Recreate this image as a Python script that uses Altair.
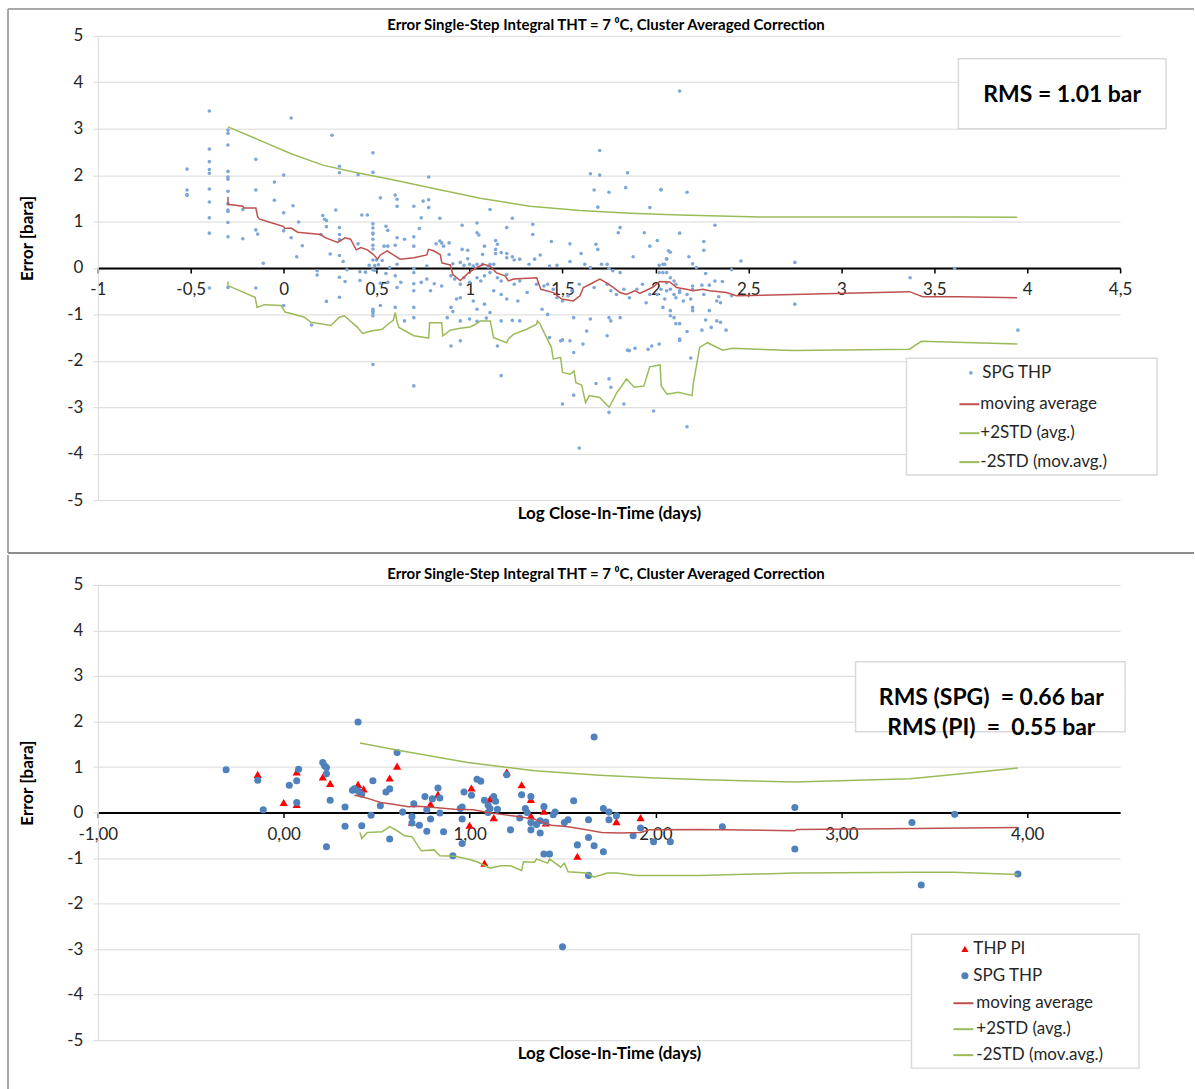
import altair as alt
import pandas as pd

FONT = "Lato"
TEXT_DARK = "#262626"
GRID = "#d9d9d9"
FRAME = "#8c8c8c"

TITLE = "Error Single-Step Integral THT = 7 \u2070C, Cluster Averaged Correction"
X_TITLE = "Log Close-In-Time (days)"
Y_TITLE = "Error [bara]"

# ---- axis ticks -------------------------------------------------------------
top_x_ticks = [-1, -0.5, 0, 0.5, 1, 1.5, 2, 2.5, 3, 3.5, 4, 4.5]
bot_x_ticks = [-1, 0, 1, 2, 3, 4]
y_ticks = [-5, -4, -3, -2, -1, 0, 1, 2, 3, 4, 5]

# ---- legend entries ---------------------------------------------------------
line_series = ["moving average", "+2STD (avg.)", "-2STD (mov.avg.)"]
line_colors = ["#c0504d", "#9bbb59", "#9bbb59"]
top_point_series = ["SPG THP"]
top_point_colors = ["#7ea6d8"]
bot_point_series = ["THP PI", "SPG THP"]
bot_point_colors = ["#ff0000", "#4f81bd"]
bot_point_shapes = ["triangle-up", "circle"]

top_rms = ["RMS = 1.01 bar"]
bot_rms = ["RMS (SPG)\u00a0 = 0.66 bar", "RMS (PI)\u00a0 = \u00a00.55 bar"]

# ---- upper panel: all SPG THP errors (log close-in-time, error) -------------
top_spg = [
    (-0.40, 3.38), (0.04, 3.23), (-0.30, 2.97), (-0.30, 2.90), (-0.30, 2.65), (0.26, 2.86),
    (-0.40, 2.56), (-0.40, 2.29), (-0.40, 2.12), (-0.40, 2.04), (-0.40, 1.70), (-0.40, 1.42),
    (-0.40, 1.08), (-0.40, 0.75), (-0.40, -0.43), (-0.52, 2.13), (-0.52, 1.68), (-0.52, 1.58),
    (-0.52, 1.56), (-0.15, 2.34), (-0.30, 2.08), (-0.30, 1.96), (-0.30, 1.91), (-0.30, 1.65),
    (-0.30, 1.38), (-0.30, 1.25), (-0.30, 1.22), (-0.30, 0.98), (-0.30, 0.67), (-0.30, -0.42),
    (0.30, 2.19), (0.30, 2.05), (0.48, 2.48), (0.48, 2.06), (0.40, 2.01), (0.00, 2.00),
    (-0.05, 1.85), (0.52, 1.51), (-0.15, 1.68), (-0.05, 1.46), (0.05, 1.34), (0.00, 1.19),
    (-0.22, 1.26), (0.28, 1.25), (0.21, 1.13), (0.22, 1.05), (0.23, 1.02), (0.42, 1.14),
    (0.45, 1.14), (0.08, 0.99), (-0.15, 0.82), (-0.14, 0.73), (-0.22, 0.63), (0.00, 0.80),
    (0.04, 0.65), (0.10, 0.48), (0.23, 0.89), (0.30, 0.87), (0.30, 0.72), (0.30, 0.61),
    (0.20, 0.72), (0.48, 0.95), (0.48, 0.86), (0.48, 0.75), (0.48, 0.73), (0.48, 0.62),
    (0.48, 0.49), (0.48, 0.41), (0.40, 0.52), (0.54, 0.47), (0.07, 0.24), (0.25, 0.30),
    (0.30, 0.27), (0.32, 0.14), (-0.11, 0.10), (0.46, 0.06), (0.48, 0.17), (0.49, 0.05),
    (0.50, 0.17), (0.51, 0.07), (0.53, 0.16), (0.48, -0.04), (0.49, -0.05), (0.18, -0.06),
    (0.18, -0.15), (0.34, -0.04), (0.41, -0.08), (0.44, -0.09), (0.30, -0.20), (0.33, -0.29),
    (0.41, -0.27), (0.52, -0.33), (0.52, -0.81), (0.48, -0.89), (0.48, -0.93), (0.48, -0.97),
    (0.48, -1.03), (-0.15, -0.43), (0.00, -0.81), (0.23, -0.72), (0.30, -0.63), (0.15, -1.23),
    (0.48, -2.08),
    (1.70, 2.53), (1.65, 2.03), (1.70, 2.00), (1.67, 1.68), (1.75, 1.63), (1.85, 2.05),
    (1.84, 1.73), (2.03, 1.68), (1.97, 1.30), (1.69, 1.31), (0.78, 1.96), (0.60, 1.57),
    (0.61, 1.48), (0.61, 1.33), (0.70, 1.33), (0.75, 1.44), (0.78, 1.47), (0.78, 1.30),
    (0.74, 1.08), (0.84, 1.07), (1.11, 1.26), (1.23, 1.07), (1.20, 0.87), (1.34, 0.94),
    (1.34, 0.72), (1.44, 0.57), (1.54, 0.52), (0.96, 0.92), (1.04, 0.97), (1.04, 0.76),
    (1.05, 0.71), (0.55, 0.90), (0.56, 0.81), (0.61, 0.65), (0.65, 0.62), (0.70, 0.67),
    (0.70, 0.47), (0.60, 0.49), (0.56, 0.47), (0.73, 0.85), (0.84, 0.58), (0.85, 0.54),
    (0.82, 0.52), (0.86, 0.47), (0.89, 0.54), (0.89, 0.29), (0.96, 0.40), (0.99, 0.38),
    (1.08, 0.47), (1.07, 0.29), (1.14, 0.59), (1.15, 0.51), (1.14, 0.40), (1.14, 0.31),
    (1.17, 0.33), (1.20, 0.31), (1.20, 0.22), (1.23, 0.24), (1.24, 0.17), (1.27, 0.19),
    (1.32, 0.08), (1.35, 0.19), (1.38, 0.28), (1.43, 0.04), (1.47, 0.06), (1.54, 0.14),
    (1.60, 0.31), (1.68, 0.51), (1.69, 0.40), (1.81, 0.87), (1.80, 0.76), (1.94, 0.76),
    (1.97, 0.47), (2.01, 0.59), (1.88, 0.24), (2.07, 0.37), (2.05, 0.08), (2.06, 0.20),
    (2.02, 0.06), (2.04, -0.10), (1.62, 0.08), (1.65, 0.01), (1.71, 0.08), (1.74, 0.08),
    (1.75, -0.01), (1.77, -0.06), (1.81, -0.10), (0.99, 0.20), (1.02, 0.04), (1.04, 0.08),
    (1.07, 0.08), (1.10, 0.02), (1.11, 0.08), (1.13, 0.08), (0.95, 0.12), (0.97, 0.06),
    (1.00, 0.08), (0.91, 0.09), (0.77, 0.04), (0.70, -0.01), (0.61, 0.08), (0.57, 0.01),
    (0.55, -0.12), (0.56, -0.31), (0.60, -0.17), (0.61, -0.42), (0.63, -0.31), (0.70, -0.10),
    (0.70, -0.34), (0.74, -0.31), (0.77, -0.24), (0.70, -0.49), (0.79, -0.49), (0.81, -0.34),
    (0.85, -0.39), (0.90, -0.17), (0.92, -0.24), (0.95, -0.35), (0.97, -0.21), (1.00, -0.31),
    (1.04, -0.21), (1.06, -0.28), (1.08, -0.17), (1.11, -0.10), (1.15, -0.21), (1.17, -0.28),
    (1.20, -0.14), (1.24, -0.35), (1.27, -0.28), (0.95, -0.64), (0.93, -0.67), (1.02, -0.71),
    (1.04, -0.89), (1.08, -0.78), (1.13, -0.49), (1.17, -0.57), (1.20, -0.67), (1.26, -0.71),
    (1.31, -0.53), (1.36, -0.35), (1.40, -0.39), (1.42, -0.35), (1.45, -0.46), (1.47, -0.64),
    (1.50, -0.71), (1.53, -0.60), (1.55, -0.49), (1.59, -0.35), (1.67, -0.42), (1.74, -0.35),
    (1.76, -0.49), (1.79, -0.57), (1.83, -0.46), (1.86, -0.64), (1.90, -0.46), (1.93, -0.35),
    (1.95, -0.75), (1.97, -0.57), (2.01, -0.57), (2.04, -0.85), (2.08, -0.92), (2.10, -1.07),
    (2.13, -0.49), (0.90, -0.85), (0.91, -0.94), (0.88, -1.07), (0.70, -0.85), (0.70, -1.07),
    (0.65, -1.14), (0.60, -0.85), (0.95, -1.14), (1.00, -1.10), (1.04, -1.15), (1.09, -1.08),
    (1.11, -0.96), (1.17, -1.14), (1.23, -1.13), (1.27, -1.14), (1.39, -0.89), (1.42, -1.00),
    (1.56, -1.07), (1.65, -1.10), (1.75, -1.07), (1.76, -1.14), (1.81, -1.07), (0.90, -1.68),
    (0.95, -1.57), (1.15, -1.68), (1.43, -1.50), (1.50, -1.55), (1.54, -1.57), (1.63, -1.36),
    (1.74, -1.46), (1.85, -1.77), (1.89, -1.73), (1.96, -1.75), (2.02, -1.64), (2.13, -1.56),
    (1.17, -2.32), (0.70, -2.54), (1.76, -2.57), (1.50, -2.93), (1.59, -3.88), (1.56, -2.74),
    (1.56, -1.82), (1.61, -1.64), (1.49, -1.57), (1.75, -3.11), (1.99, -3.08), (2.17, -3.42),
    (1.83, -2.93), (1.68, -2.49), (1.75, -2.39), (1.86, -1.78), (1.98, -1.68), (2.19, -1.94),
    (3.95, -1.34), (2.75, -0.78),
    (2.13, 3.81), (2.03, 1.69), (2.17, 1.63), (2.32, 0.92), (2.13, 0.75), (2.08, 0.34),
    (2.26, 0.57), (2.26, 0.38), (2.18, 0.24), (2.46, 0.15), (2.75, 0.12), (2.04, 0.08),
    (2.06, 0.19), (2.20, 0.09), (2.22, 0.01), (2.27, -0.12), (2.41, -0.04), (3.61, -0.01),
    (3.37, -0.21), (2.02, -0.10), (2.06, -0.10), (2.08, -0.21), (2.06, -0.32), (2.10, -0.28),
    (2.11, -0.35), (2.03, -0.46), (2.06, -0.49), (2.08, -0.46), (2.10, -0.57), (2.13, -0.53),
    (2.17, -0.57), (2.20, -0.39), (2.20, -0.46), (2.25, -0.37), (2.26, -0.57), (2.29, -0.37),
    (2.32, -0.28), (2.36, -0.29), (2.05, -0.67), (2.11, -0.64), (2.15, -0.71), (2.19, -0.67),
    (2.20, -0.85), (2.20, -0.92), (2.29, -0.92), (2.33, -0.71), (2.34, -0.62), (2.35, -0.75),
    (2.41, -0.60), (2.08, -1.03), (2.11, -1.20), (2.13, -1.20), (2.17, -1.37), (2.25, -1.34),
    (2.27, -1.12), (2.30, -1.28), (2.33, -1.14), (2.35, -1.17), (2.38, -1.34), (2.13, -1.53),
]

top_mov_avg = [
    (-0.30, 1.53), (-0.30, 1.37), (-0.22, 1.33), (-0.215, 1.29), (-0.15, 1.29), (-0.14, 1.10),
    (-0.13, 1.05), (-0.07, 0.98), (0.00, 0.89), (0.005, 0.85), (0.04, 0.86), (0.075, 0.77),
    (0.20, 0.72), (0.22, 0.66), (0.29, 0.55), (0.33, 0.65), (0.36, 0.62), (0.39, 0.39),
    (0.415, 0.44), (0.45, 0.39), (0.48, 0.30), (0.505, 0.19), (0.52, 0.28), (0.556, 0.37),
    (0.59, 0.28), (0.627, 0.19), (0.70, 0.22), (0.77, 0.28), (0.779, 0.40), (0.806, 0.37),
    (0.842, 0.29), (0.851, 0.11), (0.896, 0.065), (0.91, -0.14), (0.95, -0.27), (0.995, -0.10),
    (1.039, 0.01), (1.075, 0.08), (1.111, 0.04), (1.143, -0.10), (1.191, -0.17), (1.209, -0.28),
    (1.236, -0.24), (1.361, -0.21), (1.383, -0.46), (1.451, -0.53), (1.496, -0.67), (1.558, -0.71),
    (1.594, -0.60), (1.612, -0.42), (1.648, -0.35), (1.701, -0.24), (1.737, -0.32), (1.773, -0.42),
    (1.809, -0.53), (1.844, -0.57), (1.889, -0.49), (1.916, -0.55), (1.952, -0.48), (1.987, -0.41),
    (2.023, -0.29), (2.077, -0.30), (2.113, -0.42), (2.167, -0.46), (2.202, -0.49), (2.256, -0.46),
    (2.292, -0.49), (2.382, -0.53), (2.435, -0.60), (2.74, -0.57), (3.367, -0.51), (3.438, -0.62),
    (3.635, -0.62), (3.946, -0.64),
]

top_plus_2std = [
    (-0.30, 3.04), (-0.14, 2.77), (0.04, 2.46), (0.215, 2.21), (0.395, 2.05), (0.574, 1.91),
    (0.788, 1.73), (1.057, 1.50), (1.325, 1.33), (1.594, 1.24), (1.862, 1.18), (2.131, 1.14),
    (2.292, 1.125), (2.56, 1.10), (3.636, 1.10), (3.946, 1.09),
]

top_minus_2std = [
    (-0.30, -0.29), (-0.30, -0.38), (-0.154, -0.63), (-0.143, -0.85), (-0.104, -0.79), (-0.014, -0.81),
    (0.007, -0.95), (0.039, -0.98), (0.111, -1.06), (0.147, -1.17), (0.254, -1.24), (0.299, -1.06),
    (0.326, -1.03), (0.397, -1.28), (0.424, -1.41), (0.47, -1.36), (0.53, -1.32), (0.55, -1.25),
    (0.59, -1.12), (0.60, -0.96), (0.61, -1.16), (0.62, -1.28), (0.70, -1.46), (0.78, -1.51),
    (0.785, -1.18), (0.85, -1.18), (0.856, -1.46), (0.896, -1.34), (0.95, -1.30), (1.003, -1.27),
    (1.039, -1.20), (1.057, -1.14), (1.111, -1.14), (1.129, -1.50), (1.20, -1.61), (1.209, -1.53),
    (1.236, -1.43), (1.307, -1.32), (1.361, -1.21), (1.365, -1.14), (1.379, -1.21), (1.44, -1.71),
    (1.45, -1.96), (1.49, -1.93), (1.50, -2.25), (1.541, -2.29), (1.562, -2.22), (1.572, -2.47),
    (1.603, -2.52), (1.624, -2.90), (1.644, -2.75), (1.70, -2.79), (1.751, -3.00), (1.793, -2.68),
    (1.814, -2.57), (1.844, -2.39), (1.886, -2.57), (1.938, -2.54), (1.969, -2.13), (2.025, -2.09),
    (2.031, -2.54), (2.062, -2.72), (2.124, -2.68), (2.197, -2.75), (2.203, -2.50), (2.238, -1.71),
    (2.28, -1.61), (2.362, -1.77), (2.414, -1.73), (2.746, -1.78), (3.367, -1.75), (3.43, -1.58),
    (3.947, -1.64),
]

# ---- lower panel: cluster data with PI comparison ---------------------------
bot_pi = [
    (-0.14, 0.84), (0.00, 0.22), (0.07, 0.89), (0.07, 0.18), (0.21, 0.78), (0.25, 0.64),
    (0.40, 0.62), (0.43, 0.52), (0.57, 0.76), (0.61, 1.02), (0.69, -0.21), (0.79, 0.19),
    (0.83, 0.40), (1.00, -0.28), (1.01, 0.54), (1.08, -1.11), (1.11, 0.30), (1.13, -0.11),
    (1.20, 0.89), (1.28, 0.61), (1.33, 0.29), (1.33, -0.07), (1.40, 0.03), (1.41, -0.23),
    (1.58, -0.96), (1.79, -0.20), (1.92, -0.11),
]

bot_spg = [
    (0.40, 1.99), (1.67, 1.66), (-0.31, 0.94), (-0.14, 0.71), (-0.11, 0.06), (0.03, 0.60),
    (0.07, 0.70), (0.08, 0.95), (0.07, 0.22), (0.21, 1.10), (0.22, 1.03), (0.23, 0.99),
    (0.23, 0.85), (0.25, 0.27), (0.23, -0.75), (0.33, 0.12), (0.33, -0.30), (0.37, 0.49),
    (0.38, 0.52), (0.40, 0.48), (0.41, 0.43), (0.42, 0.40), (0.42, -0.29), (0.47, -0.06),
    (0.48, 0.70), (0.52, 0.15), (0.55, 0.45), (0.57, 0.52), (0.57, -0.58), (0.61, 1.32),
    (0.64, 0.01), (0.69, -0.09), (0.69, -0.23), (0.70, 0.19), (0.73, -0.28), (0.76, 0.35),
    (0.77, 0.06), (0.77, -0.41), (0.79, -0.14), (0.80, 0.30), (0.83, 0.54), (0.84, 0.32),
    (0.84, -0.01), (0.86, -0.42), (0.91, -0.95), (0.95, 0.09), (0.96, 0.12), (0.97, 0.45),
    (0.96, -0.14), (0.96, -0.68), (1.01, 0.38), (1.04, 0.73), (1.06, 0.69), (1.08, 0.27),
    (1.10, 0.16), (1.11, 0.09), (1.13, 0.35), (1.14, 0.25), (1.15, 0.07), (1.10, 0.00),
    (1.20, 0.83), (1.22, -0.38), (1.27, -0.12), (1.28, 0.39), (1.30, 0.09), (1.31, 0.00),
    (1.33, -0.22), (1.33, -0.38), (1.33, 0.35), (1.36, -0.26), (1.38, -0.18), (1.38, -0.45),
    (1.41, -0.21), (1.40, 0.13), (1.40, -0.91), (1.43, -0.91), (1.45, -0.05), (1.46, 0.01),
    (1.51, -0.22), (1.53, -0.16), (1.50, -2.95), (1.56, 0.26), (1.58, -0.71), (1.64, -0.16),
    (1.64, -1.38), (1.64, -0.55), (1.67, -0.73), (1.72, -0.86), (1.72, 0.09), (1.75, 0.01),
    (1.75, -0.16), (1.79, -0.07), (1.88, -0.51), (1.92, -0.34), (1.99, -0.64), (2.08, -0.64),
    (2.36, -0.31), (2.75, 0.11), (2.75, -0.80), (3.38, -0.22), (3.43, -1.59), (3.61, -0.04),
    (3.95, -1.35),
]

bot_mov_avg = [
    (0.38, 0.38), (0.41, 0.36), (0.47, 0.29), (0.52, 0.22), (0.59, 0.18), (0.67, 0.13),
    (0.72, 0.14), (0.81, 0.11), (0.92, 0.07), (1.02, 0.06), (1.10, 0.00), (1.17, -0.04),
    (1.27, -0.09), (1.35, -0.15), (1.44, -0.28), (1.53, -0.31), (1.62, -0.37), (1.71, -0.44),
    (1.81, -0.45), (1.92, -0.44), (1.97, -0.38), (2.24, -0.37), (2.75, -0.40), (2.76, -0.37),
    (3.40, -0.35), (3.95, -0.33),
]

bot_plus_2std = [
    (0.41, 1.53), (0.63, 1.36), (0.99, 1.10), (1.35, 0.92), (1.70, 0.82), (2.00, 0.76),
    (2.27, 0.72), (2.75, 0.67), (3.37, 0.74), (3.62, 0.84), (3.95, 0.98),
]

bot_minus_2std = [
    (0.41, -0.44), (0.42, -0.57), (0.45, -0.44), (0.53, -0.42), (0.57, -0.31), (0.61, -0.40),
    (0.65, -0.51), (0.69, -0.53), (0.74, -0.84), (0.81, -0.82), (0.84, -0.95), (0.92, -0.96),
    (0.99, -1.02), (1.04, -1.08), (1.09, -1.18), (1.11, -1.22), (1.17, -1.17), (1.22, -1.17),
    (1.28, -1.27), (1.29, -1.08), (1.35, -1.09), (1.36, -1.02), (1.42, -1.11), (1.43, -1.02),
    (1.49, -1.20), (1.51, -1.11), (1.53, -1.30), (1.63, -1.33), (1.67, -1.42), (1.74, -1.33),
    (1.79, -1.33), (1.90, -1.38), (2.24, -1.38), (2.75, -1.33), (3.43, -1.31), (3.60, -1.31),
    (3.95, -1.36),
]


def points_frame(named):
    rows = []
    for name, pairs in named:
        for x, y in pairs:
            rows.append({"x": x, "y": y, "series": name})
    return pd.DataFrame(rows)


def lines_frame(named):
    rows = []
    for name, pairs in named:
        for i, (x, y) in enumerate(pairs):
            rows.append({"x": x, "y": y, "series": name, "idx": i})
    return pd.DataFrame(rows)


def legend(x, y, row_pad, symbol_type, symbol_size, label_offset):
    return alt.Legend(
        title=None,
        orient="none",
        legendX=x,
        legendY=y,
        padding=0,
        labelFont=FONT,
        labelFontSize=17,
        labelColor=TEXT_DARK,
        labelOffset=label_offset,
        symbolType=symbol_type,
        symbolSize=symbol_size,
        symbolStrokeWidth=2,
        symbolOpacity=1,
        rowPadding=row_pad,
    )


def panel(width, height, x_ticks, x_label_expr, x_title_y, point_layers, lines, point_legend,
          line_legend, legend_box, rms_lines, rms_box, rms_center, frame):
    x_enc = alt.X(
        "x:Q",
        scale=alt.Scale(domain=[-1, 4.5], nice=False, zero=False),
        axis=alt.Axis(
            values=x_ticks,
            labelExpr=x_label_expr,
            offset=-height / 2,
            domainColor="black",
            domainWidth=2,
            tickColor="black",
            tickWidth=1.5,
            tickSize=5,
            labelFont=FONT,
            labelFontSize=17,
            labelColor=TEXT_DARK,
            labelPadding=9,
            labelFlush=False,
            labelOverlap=False,
            grid=False,
            title=X_TITLE,
            titleFont=FONT,
            titleFontSize=17,
            titleFontWeight="bold",
            titleColor="black",
            titleX=width / 2,
            titleY=x_title_y,
            titleBaseline="middle",
            titleAlign="center",
        ),
    )
    y_enc = alt.Y(
        "y:Q",
        scale=alt.Scale(domain=[-5, 5], nice=False, zero=False),
        axis=alt.Axis(
            values=y_ticks,
            labelExpr="toString(datum.value)",
            domainColor=GRID,
            domainWidth=1,
            tickColor=GRID,
            tickSize=5,
            labelFont=FONT,
            labelFontSize=17,
            labelColor=TEXT_DARK,
            labelPadding=10,
            grid=True,
            gridColor=GRID,
            gridWidth=1,
            title=Y_TITLE,
            titleFont=FONT,
            titleFontSize=17,
            titleFontWeight="bold",
            titleColor="black",
            titleAngle=-90,
            titleX=-70,
            titleY=height / 2 - 30,
            titleBaseline="middle",
            titleAlign="center",
        ),
    )

    p_series, p_colors, p_shapes, p_sizes, p_frames = point_layers
    fill = alt.Fill(
        "series:N",
        scale=alt.Scale(domain=p_series, range=p_colors),
        legend=point_legend,
    )
    shape = alt.Shape(
        "series:N",
        scale=alt.Scale(domain=p_series, range=p_shapes),
        legend=point_legend,
    )
    stroke = alt.Stroke(
        "series:N",
        scale=alt.Scale(domain=line_series, range=line_colors),
        legend=line_legend,
    )

    layers = []
    for df, size in zip(p_frames, p_sizes):
        layers.append(
            alt.Chart(df).mark_point(filled=True, size=size, opacity=1, strokeWidth=0)
            .encode(x=x_enc, y=y_enc, fill=fill, shape=shape)
        )
    layers.append(
        alt.Chart(lines).mark_line(strokeWidth=1.5)
        .encode(x=x_enc, y=y_enc, stroke=stroke, order=alt.Order("idx:Q"))
    )

    deco = pd.DataFrame({"k": [0]})
    # chart heading, drawn as text so that it sits inside the page frame
    layers.append(
        alt.Chart(deco).mark_text(
            text=TITLE, font=FONT, fontSize=15, fontWeight="bold", color="black",
            align="center", baseline="middle",
        ).encode(x=alt.value(width / 2 - 3), y=alt.value(-11))
    )
    # legend background box
    lx0, ly0, lx1, ly1 = legend_box
    layers.append(
        alt.Chart(deco).mark_rect(fill="white", stroke=GRID, strokeWidth=1.5)
        .encode(x=alt.value(lx0), x2=alt.value(lx1), y=alt.value(ly0), y2=alt.value(ly1))
    )
    # RMS annotation box
    bx0, by0, bx1, by1 = rms_box
    layers.append(
        alt.Chart(deco).mark_rect(fill="white", stroke=GRID, strokeWidth=1.5)
        .encode(x=alt.value(bx0), x2=alt.value(bx1), y=alt.value(by0), y2=alt.value(by1))
    )
    layers.append(
        alt.Chart(deco).mark_text(
            text=rms_lines if len(rms_lines) > 1 else rms_lines[0],
            font=FONT, fontSize=23, fontWeight="bold", color="black",
            align="center", baseline="middle", lineHeight=30,
        ).encode(x=alt.value(rms_center[0]), y=alt.value(rms_center[1]))
    )
    # page frame around the panel
    f_top, f_bottom, draw_top, draw_sep = frame
    layers.append(
        alt.Chart(deco).mark_rule(color=FRAME, strokeWidth=1.5)
        .encode(x=alt.value(-90), y=alt.value(f_top), y2=alt.value(f_bottom))
    )
    if draw_top:
        layers.append(
            alt.Chart(deco).mark_rule(color=FRAME, strokeWidth=1.5)
            .encode(x=alt.value(-90), x2=alt.value(1098), y=alt.value(f_top))
        )
    if draw_sep:
        layers.append(
            alt.Chart(deco).mark_rule(color=FRAME, strokeWidth=2)
            .encode(x=alt.value(-90), x2=alt.value(1098), y=alt.value(f_bottom))
        )

    return alt.layer(*layers).properties(
        width=width,
        height=height,
    ).resolve_scale(fill="shared", shape="shared", stroke="shared")


PLOT_W = 1024
TOP_H = 465
BOT_H = 456

top = panel(
    PLOT_W, TOP_H, top_x_ticks, "replace(toString(datum.value), '.', ',')", 246,
    (top_point_series, top_point_colors, ["circle"], [13],
     [points_frame([("SPG THP", top_spg)])]),
    lines_frame([
        ("moving average", top_mov_avg),
        ("+2STD (avg.)", top_plus_2std),
        ("-2STD (mov.avg.)", top_minus_2std),
    ]),
    legend(866, 329, 11, "circle", 14, 3),
    legend(862, 358, 10, "stroke", 400, 0),
    legend_box=(810, 323, 1061, 440),
    rms_lines=top_rms, rms_box=(862, 23, 1070, 93), rms_center=(966, 59),
    frame=(-27, 518, True, True),
)

bot = panel(
    PLOT_W, BOT_H, bot_x_ticks,
    "replace(replace(format(datum.value, '.2f'), '.', ','), '\u2212', '-')", 241,
    (bot_point_series, bot_point_colors, bot_point_shapes, [68, 50],
     [points_frame([("THP PI", bot_pi)]), points_frame([("SPG THP", bot_spg)])]),
    lines_frame([
        ("moving average", bot_mov_avg),
        ("+2STD (avg.)", bot_plus_2std),
        ("-2STD (mov.avg.)", bot_minus_2std),
    ]),
    legend(860, 356, 9, "circle", 50, 0),
    legend(856, 408, 7, "stroke", 400, 2),
    legend_box=(815, 350, 1043, 484),
    rms_lines=bot_rms, rms_box=(759, 77, 1029, 147), rms_center=(895, 113),
    frame=(-30, 506, False, False),
)

chart = (
    alt.vconcat(top, bot, spacing=0)
    .resolve_scale(fill="independent", shape="independent", stroke="independent")
    .resolve_legend(fill="independent", shape="independent", stroke="independent")
    .configure(padding={"left": 7, "top": 7, "right": 0, "bottom": 0}, font=FONT)
    .configure_view(stroke=None)
)

chart.save("out.html", embed_options={"renderer": "svg", "actions": False})
